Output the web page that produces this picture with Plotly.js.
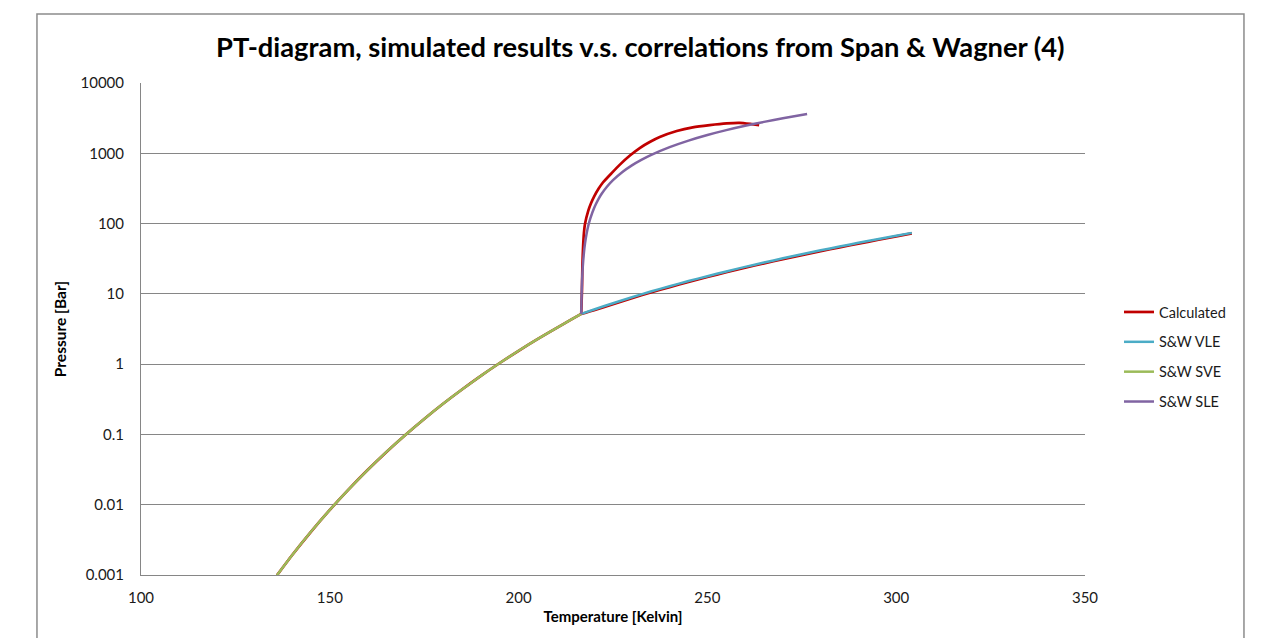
<!DOCTYPE html>
<html>
<head>
<meta charset="utf-8">
<script src="https://cdn.plot.ly/plotly-3.0.1.min.js"></script>
<style>
html,body{margin:0;padding:0;background:#fff;}
#chart{width:1268px;height:638px;}
</style>
</head>
<body>
<div id="chart"></div>
<script>
// Calculated (simulated) results: sublimation branch, melting branch, vapour-liquid branch (separated by gaps)
const calcT = [136,140,145,150,155,160,165,170,175,180,185,190,195,200,205,210,214,216.59,
  null,
  216.59,216.78,216.9,217.1,217.3,217.58,218.46,219.20,219.99,221.21,222.33,224.71,226.83,229.48,232.08,234.73,237.38,241.88,246.12,250.62,255.12,258.56,261.74,263.7,
  null,
  216.59,220,225,230,235,240,245,250,255,260,265,270,275,280,285,290,295,300,304.13];
const calcP = [0.00099,0.00191,0.00412,0.00845,0.01655,0.0311,0.0563,0.0982,0.166,0.273,0.436,0.681,1.038,1.55,2.27,3.26,4.33,5.18,
  null,
  5.18,11.3,25.7,49.5,73.4,98.5,153,196,242,315,384,527,690,929,1188,1446,1703,2073,2341,2523,2668,2712,2600,2520,
  null,
  5.18,5.85,7.15,8.68,10.47,12.47,14.78,17.37,20.28,23.55,27.15,31.15,35.6,40.5,45.9,51.8,58.3,65.6,72.4];

// Span & Wagner vapour-liquid equilibrium
const vleT = [216.59,220,225,230,235,240,245,250,255,260,265,270,275,280,285,290,295,300,304.13];
const vleP = [5.18,5.99,7.36,8.93,10.78,12.83,15.20,17.85,20.84,24.19,27.89,32.03,36.59,41.60,47.10,53.18,59.78,67.13,73.77];

// Span & Wagner solid-vapour equilibrium
const sveT = [136,140,145,150,155,160,165,170,175,180,185,190,195,200,205,210,214,216.59];
const sveP = [0.00099,0.00191,0.00412,0.00845,0.01655,0.0311,0.0563,0.0982,0.166,0.273,0.436,0.681,1.038,1.55,2.27,3.26,4.33,5.18];

// Span & Wagner solid-liquid equilibrium
const sleT = [216.59,216.7,216.8,217.0,217.3,217.6,218,218.5,219,220,221,222,223.5,225,227.5,230,232.5,235,240,245,250,255,260,265,270,276.4];
const sleP = [5.18,10.3,15.0,24.4,38.4,52.6,71.6,95.3,119,167,216,265,339,414,542,673,806,943,1224,1517,1821,2136,2463,2801,3150,3610];

const yTickVals = [0.001,0.01,0.1,1,10,100,1000,10000];
const yTickText = ['0.001','0.01','0.1','1','10','100','1000','10000'];
const xTickVals = [100,150,200,250,300,350];

const seriesNames = ['Calculated','S&W VLE','S&W SVE','S&W SLE'];
const seriesColors = ['#C00000','#4BACC6','#9BBB59','#8064A2'];

const FONT = 'Lato, "Open Sans", sans-serif';

const data = [
  {x: calcT, y: calcP, name: seriesNames[0], mode:'lines', connectgaps:false, line:{color:seriesColors[0], width:2.7, shape:'spline', smoothing:0.6}, legendgroup:'a'},
  {x: vleT, y: vleP, name: seriesNames[1], mode:'lines', line:{color:seriesColors[1], width:2.5, shape:'spline', smoothing:0.6}, legendgroup:'b'},
  {x: sveT, y: sveP, name: seriesNames[2], mode:'lines', line:{color:seriesColors[2], width:2.5, shape:'spline', smoothing:0.6}, legendgroup:'c'},
  {x: sleT, y: sleP, name: seriesNames[3], mode:'lines', line:{color:seriesColors[3], width:2.5, shape:'spline', smoothing:0.8}, legendgroup:'d'}
];

const layout = {
  width:1268, height:638,
  margin:{l:141, r:183, t:83, b:63, pad:0},
  paper_bgcolor:'#ffffff', plot_bgcolor:'#ffffff',
  font:{family:FONT, size:15, color:'#1a1a1a'},
  title:{text:'PT-diagram, simulated results v.s. correlations from Span &amp; Wagner (4)',
    font:{family:FONT, size:27.3, color:'#000', weight:'bold'},
    x:0.505, xref:'container', xanchor:'center', y:0.926, yref:'container', yanchor:'middle'},
  xaxis:{range:[100,350], tickvals:xTickVals, ticks:'', showgrid:false, zeroline:false,
    showline:true, linecolor:'#868686', linewidth:1, ticklabelstandoff:9,
    tickfont:{family:FONT, size:15, color:'#1a1a1a'},
    title:{text:'Temperature [Kelvin]', font:{family:FONT, size:15, weight:'bold', color:'#000'}, standoff:6}},
  yaxis:{type:'log', range:[-3,4], tickvals:yTickVals, ticktext:yTickText, ticks:'',
    showgrid:true, gridcolor:'#868686', gridwidth:1, zeroline:false,
    showline:true, linecolor:'#868686', linewidth:1, ticklabelstandoff:13,
    tickfont:{family:FONT, size:15, color:'#1a1a1a'},
    title:{text:'Pressure [Bar]', font:{family:FONT, size:15.5, weight:'bold', color:'#000'}, standoff:10}},
  showlegend:true,
  legend:{x:1.036, xanchor:'left', y:0.443, yanchor:'middle', traceorder:'grouped', tracegroupgap:8,
    font:{family:FONT, size:14.5, color:'#1a1a1a'}, bgcolor:'rgba(0,0,0,0)'},
  shapes:[{type:'rect', xref:'paper', yref:'paper', x0:-0.1102, x1:1.1684, y0:-0.2, y1:1.1402,
    line:{color:'#8c8c8c', width:1.5}, fillcolor:'rgba(0,0,0,0)', layer:'below'}]
};

Plotly.newPlot('chart', data, layout, {staticPlot:true, displayModeBar:false});
</script>
</body>
</html>
